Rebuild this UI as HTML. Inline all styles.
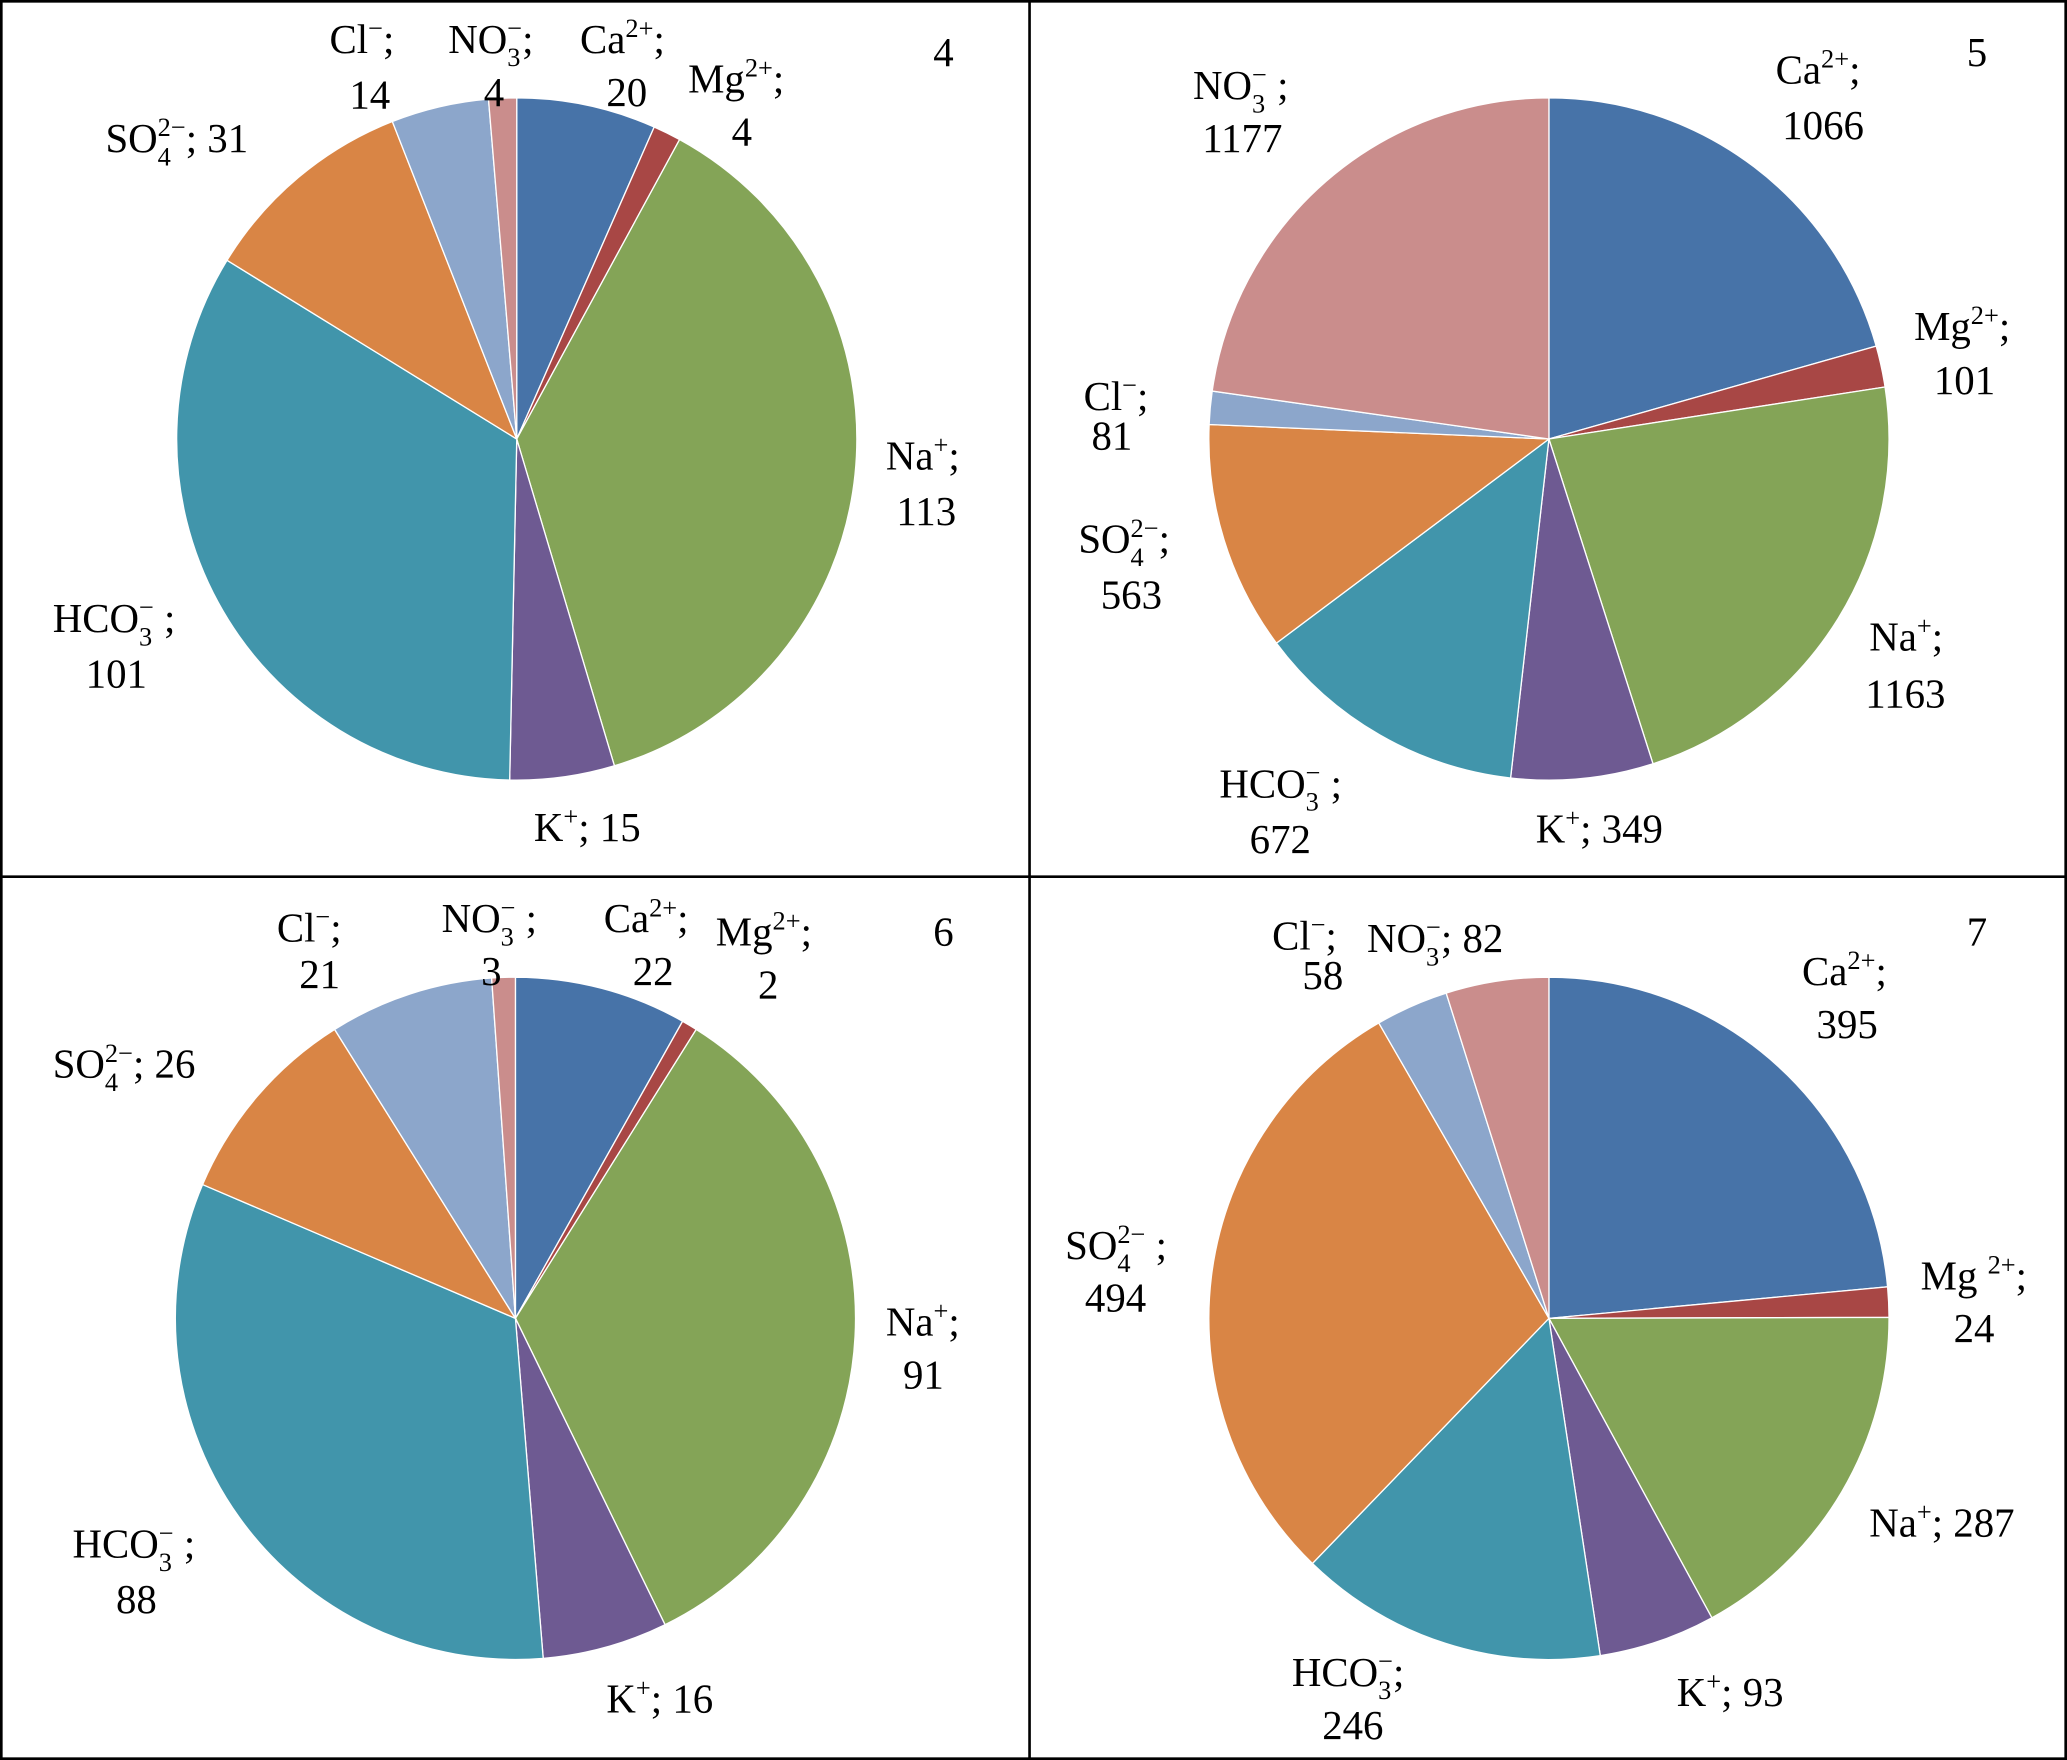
<!DOCTYPE html>
<html><head><meta charset="utf-8"><style>
html,body{margin:0;padding:0;background:#fff}
svg{display:block}
text{font-family:"Liberation Serif",serif;font-size:31px;fill:#000}
</style></head><body>
<svg id="chart" width="2067" height="1760" viewBox="0 0 1568 1331" preserveAspectRatio="none" xmlns="http://www.w3.org/2000/svg">
<rect x="1" y="1" width="1566" height="1329" fill="#fff" stroke="#000" stroke-width="2"/>
<line x1="781" y1="0" x2="781" y2="1331" stroke="#000" stroke-width="2"/>
<line x1="0" y1="663" x2="1568" y2="663" stroke="#000" stroke-width="2"/>
<g id="pies"></g>
<g id="labels">
<text x="708" y="50">4</text>
<text x="250" y="40">Cl<tspan dy="-12" font-size="20">−</tspan><tspan dy="12">;</tspan></text>
<text x="265" y="82">14</text>
<text x="340" y="40">NO<tspan dy="10" font-size="20">3</tspan><tspan dx="-10" dy="-22" font-size="20">−</tspan><tspan dy="12">;</tspan></text>
<text x="367" y="80">4</text>
<text x="440" y="40">Ca<tspan dy="-12" font-size="20">2+</tspan><tspan dy="12">;</tspan></text>
<text x="460" y="80">20</text>
<text x="522" y="70">Mg<tspan dy="-12" font-size="20">2+</tspan><tspan dy="12">;</tspan></text>
<text x="555" y="110">4</text>
<text x="80" y="115">SO<tspan dy="10" font-size="20">4</tspan><tspan dx="-10" dy="-22" font-size="20">2−</tspan><tspan dy="12">; 31</tspan></text>
<text x="672" y="355">Na<tspan dy="-12" font-size="20">+</tspan><tspan dy="12">;</tspan></text>
<text x="680" y="397">113</text>
<text x="40" y="478">HCO<tspan dy="10" font-size="20">3</tspan><tspan dx="-10" dy="-22" font-size="20">−</tspan><tspan dy="12"> ;</tspan></text>
<text x="65" y="520">101</text>
<text x="405" y="636">K<tspan dy="-12" font-size="20">+</tspan><tspan dy="12">; 15</tspan></text>

<text x="1492" y="50">5</text>
<text x="1347" y="63">Ca<tspan dy="-12" font-size="20">2+</tspan><tspan dy="12">;</tspan></text>
<text x="1352" y="105">1066</text>
<text x="905" y="75">NO<tspan dy="10" font-size="20">3</tspan><tspan dx="-10" dy="-22" font-size="20">−</tspan><tspan dy="12"> ;</tspan></text>
<text x="912" y="115">1177</text>
<text x="1452" y="257">Mg<tspan dy="-12" font-size="20">2+</tspan><tspan dy="12">;</tspan></text>
<text x="1467" y="298">101</text>
<text x="822" y="310">Cl<tspan dy="-12" font-size="20">−</tspan><tspan dy="12">;</tspan></text>
<text x="828" y="340">81</text>
<text x="818" y="418">SO<tspan dy="10" font-size="20">4</tspan><tspan dx="-10" dy="-22" font-size="20">2−</tspan><tspan dy="12">;</tspan></text>
<text x="835" y="460">563</text>
<text x="1418" y="492">Na<tspan dy="-12" font-size="20">+</tspan><tspan dy="12">;</tspan></text>
<text x="1415" y="535">1163</text>
<text x="925" y="603">HCO<tspan dy="10" font-size="20">3</tspan><tspan dx="-10" dy="-22" font-size="20">−</tspan><tspan dy="12"> ;</tspan></text>
<text x="948" y="645">672</text>
<text x="1165" y="637">K<tspan dy="-12" font-size="20">+</tspan><tspan dy="12">; 349</tspan></text>

<text x="708" y="715">6</text>
<text x="210" y="712">Cl<tspan dy="-12" font-size="20">−</tspan><tspan dy="12">;</tspan></text>
<text x="227" y="747">21</text>
<text x="335" y="705">NO<tspan dy="10" font-size="20">3</tspan><tspan dx="-10" dy="-22" font-size="20">−</tspan><tspan dy="12"> ;</tspan></text>
<text x="365" y="745">3</text>
<text x="458" y="705">Ca<tspan dy="-12" font-size="20">2+</tspan><tspan dy="12">;</tspan></text>
<text x="480" y="745">22</text>
<text x="543" y="715">Mg<tspan dy="-12" font-size="20">2+</tspan><tspan dy="12">;</tspan></text>
<text x="575" y="755">2</text>
<text x="40" y="815">SO<tspan dy="10" font-size="20">4</tspan><tspan dx="-10" dy="-22" font-size="20">2−</tspan><tspan dy="12">;  26</tspan></text>
<text x="672" y="1010">Na<tspan dy="-12" font-size="20">+</tspan><tspan dy="12">;</tspan></text>
<text x="685" y="1050">91</text>
<text x="55" y="1178">HCO<tspan dy="10" font-size="20">3</tspan><tspan dx="-10" dy="-22" font-size="20">−</tspan><tspan dy="12"> ;</tspan></text>
<text x="88" y="1220">88</text>
<text x="460" y="1295">K<tspan dy="-12" font-size="20">+</tspan><tspan dy="12">; 16</tspan></text>

<text x="1492" y="715">7</text>
<text x="965" y="718">Cl<tspan dy="-12" font-size="20">−</tspan><tspan dy="12">;</tspan></text>
<text x="988" y="748">58</text>
<text x="1037" y="720">NO<tspan dy="10" font-size="20">3</tspan><tspan dx="-10" dy="-22" font-size="20">−</tspan><tspan dy="12">; 82</tspan></text>
<text x="1367" y="745">Ca<tspan dy="-12" font-size="20">2+</tspan><tspan dy="12">;</tspan></text>
<text x="1378" y="785">395</text>
<text x="808" y="952">SO<tspan dy="10" font-size="20">4</tspan><tspan dx="-10" dy="-22" font-size="20">2−</tspan><tspan dy="12"> ;</tspan></text>
<text x="823" y="992">494</text>
<text x="1457" y="975">Mg <tspan dy="-12" font-size="20">2+</tspan><tspan dy="12">;</tspan></text>
<text x="1482" y="1015">24</text>
<text x="1418" y="1162">Na<tspan dy="-12" font-size="20">+</tspan><tspan dy="12">; 287</tspan></text>
<text x="980" y="1275">HCO<tspan dy="10" font-size="20">3</tspan><tspan dx="-10" dy="-22" font-size="20">−</tspan><tspan dy="12">;</tspan></text>
<text x="1003" y="1315">246</text>
<text x="1272" y="1290">K<tspan dy="-12" font-size="20">+</tspan><tspan dy="12">; 93</tspan></text>
</g>
</svg>
<script>
const ions = ["ca","mg","na","k","hco3","so4","cl","no3"];
const colors = ["#4773a8","#a84745","#84a457","#6e5a92","#4195ab","#d98545","#8ca6cb","#ca8d8c"];
const values4 = [20,4,113,15,101,31,14,4];
const values5 = [1066,101,1163,349,672,563,81,1177];
const values6 = [22,2,91,16,88,26,21,3];
const values7 = [395,24,287,93,246,494,58,82];
const panels = [
  {id:"4", vals:values4, cx:392, cy:332, r:258},
  {id:"5", vals:values5, cx:1175, cy:332, r:258},
  {id:"6", vals:values6, cx:391, cy:997, r:258},
  {id:"7", vals:values7, cx:1175, cy:997, r:258}
];
const NS="http://www.w3.org/2000/svg";
const g=document.getElementById("pies");
panels.forEach(p=>{
  const pg=document.createElementNS(NS,"g");
  
  
  g.appendChild(pg);
  const total=p.vals.reduce((a,b)=>a+b,0);
  let a0=0;
  p.vals.forEach((v,i)=>{
    const a1=a0+v/total*2*Math.PI;
    const x0=p.cx+p.r*Math.sin(a0), y0=p.cy-p.r*Math.cos(a0);
    const x1=p.cx+p.r*Math.sin(a1), y1=p.cy-p.r*Math.cos(a1);
    const large=(a1-a0)>Math.PI?1:0;
    const path=document.createElementNS(NS,"path");
    path.setAttribute("d",`M${p.cx},${p.cy} L${x0},${y0} A${p.r},${p.r} 0 ${large} 1 ${x1},${y1} Z`);
    path.setAttribute("fill",colors[i]);
    path.setAttribute("stroke","#fff");
    path.setAttribute("stroke-width","1");
    
    
    pg.appendChild(path);
    a0=a1;
  });
});
</script>
</body></html>
